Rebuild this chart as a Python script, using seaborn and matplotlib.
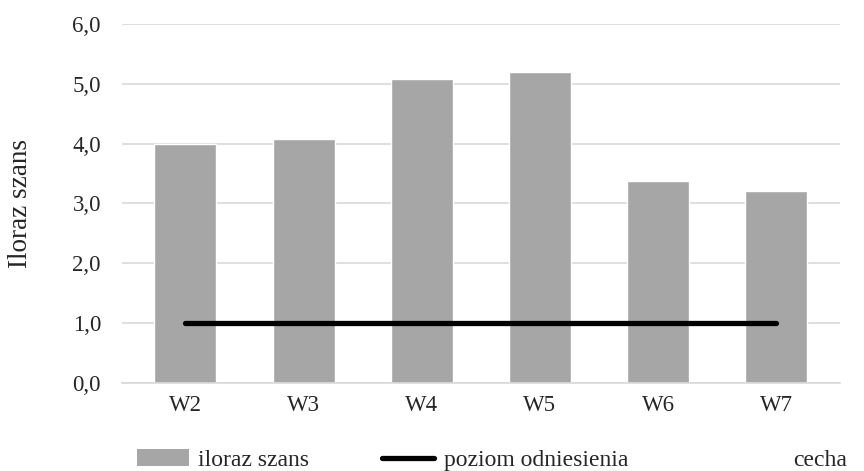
import matplotlib
matplotlib.use("Agg")
import matplotlib.pyplot as plt
import seaborn as sns
import pandas as pd
from matplotlib.patches import Patch
from matplotlib.lines import Line2D

# dane
cechy = ["W2", "W3", "W4", "W5", "W6", "W7"]
iloraz = [4.00, 4.08, 5.08, 5.20, 3.37, 3.21]
poziom = [1.0, 1.0, 1.0, 1.0, 1.0, 1.0]
yticks = [0, 1, 2, 3, 4, 5, 6]

df = pd.DataFrame({"cecha": cechy, "iloraz szans": iloraz, "poziom": poziom})

sns.set_style("white")
plt.rcParams["font.family"] = ["Liberation Serif", "DejaVu Serif"]

fig = plt.figure(figsize=(8.64, 4.71), dpi=100)
ax = fig.add_axes([0.141, 0.187, 0.831, 0.762])

sns.barplot(data=df, x="cecha", y="iloraz szans", color="#a6a6a6",
            saturation=1, width=0.525, ax=ax, zorder=2)
ax.plot(range(len(cechy)), df["poziom"], color="black", linewidth=3.8,
        solid_capstyle="round", zorder=3)

ax.set_ylim(0, 6)
ax.set_yticks(yticks)
ax.set_yticklabels([f"{v:.1f}".replace(".", ",") for v in yticks], fontsize=16.5)
ax.tick_params(axis="x", labelsize=16.5, length=0, pad=9)
ax.tick_params(axis="y", length=0, pad=15)
ax.grid(axis="y", color="#d9d9d9", linewidth=1.2, zorder=0)
ax.set_axisbelow(True)
for s in ["top", "right", "left"]:
    ax.spines[s].set_visible(False)
ax.spines["bottom"].set_color("#d9d9d9")
ax.spines["bottom"].set_linewidth(1.2)
ax.set_xlabel("")
ax.set_ylabel("Iloraz szans", fontsize=19.5, labelpad=28)

# legenda: dwie serie + pusta seria "cecha"
uchwyty = [
    Patch(facecolor="#a6a6a6", edgecolor="none"),
    Line2D([0], [0], color="black", linewidth=3.8, solid_capstyle="round"),
]
leg = ax.legend(uchwyty, ["iloraz szans", "poziom odniesienia"],
                loc="center left", bbox_to_anchor=(0.021, -0.215), ncol=2,
                frameon=False, fontsize=17, handlelength=2.2, handletextpad=0.4,
                columnspacing=3.1, borderpad=0, borderaxespad=0)
ax.add_artist(leg)
ax.legend([Line2D([0], [0], color="none")], ["cecha"],
          loc="center right", bbox_to_anchor=(1.01, -0.215),
          frameon=False, fontsize=17, handlelength=0, handletextpad=0,
          borderpad=0, borderaxespad=0)

fig.savefig("out.png", dpi=100)
